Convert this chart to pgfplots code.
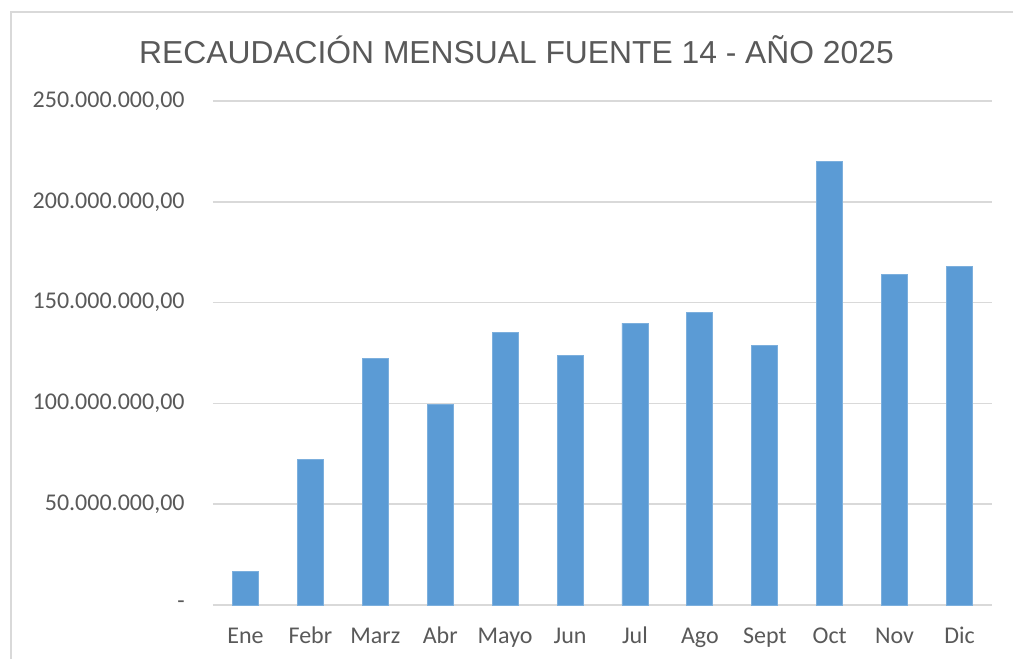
\documentclass[border=0pt]{standalone}
\usepackage{fontspec}
\setmainfont{Carlito}
\newfontfamily\titlefont{Liberation Sans}
\usepackage{pgfplots}
\pgfplotsset{compat=1.18}

\definecolor{barblue}{HTML}{5B9BD5}
\definecolor{gridgray}{HTML}{D9D9D9}
\definecolor{txtgray}{HTML}{595959}

% values in millions
\pgfplotstableread{
x val
0  16.8
1  72.3
2  122.4
3  99.3
4  135.3
5  124.0
6  139.8
7  145.0
8  128.8
9  219.8
10 163.8
11 167.9
}\recaudacion

\begin{document}
\begin{tikzpicture}
  \path[use as bounding box] (0,0) rectangle (506.5pt,329.5pt);
  \begin{scope}
    \clip (0,0) rectangle (506.5pt,329.5pt);
    \draw[gridgray, line width=0.8pt] (5.5pt,-10pt) -- (5.5pt,323.5pt) -- (520pt,323.5pt);
  \end{scope}
  \node[txtgray, font=\titlefont\fontsize{15.9}{18}\selectfont] at (258.25pt,304.5pt)
    {RECAUDACIÓN MENSUAL FUENTE 14 - AÑO 2025};
  \begin{axis}[
    at={(106.5pt,27pt)}, anchor=south west,
    scale only axis,
    width=389.5pt, height=252pt,
    ybar, bar width=13pt,
    xmin=-0.5, xmax=11.5,
    ymin=0, ymax=250,
    xtick=data,
    xticklabels={Ene,Febr,Marz,Abr,Mayo,Jun,Jul,Ago,Sept,Oct,Nov,Dic},
    ytick={0,50,100,150,200,250},
    yticklabels={-\hspace{5.5pt},{50.000.000,00},{100.000.000,00},{150.000.000,00},{200.000.000,00},{250.000.000,00}},
    major tick length=0pt,
    axis lines*=left,
    y axis line style={draw=none},
    x axis line style={draw=gridgray, line width=0.8pt},
    ymajorgrids=true,
    grid style={gridgray, line width=0.8pt},
    ticklabel style={txtgray, font=\fontsize{12}{14}\selectfont, inner sep=0pt},
    yticklabel style={anchor=east, xshift=-14pt},
    xticklabel style={anchor=base, yshift=-19.5pt},
    clip=false,
  ]
    \addplot[fill=barblue, draw=barblue!80!white, line width=0.4pt] table[x=x, y=val] {\recaudacion};
  \end{axis}
\end{tikzpicture}
\end{document}
